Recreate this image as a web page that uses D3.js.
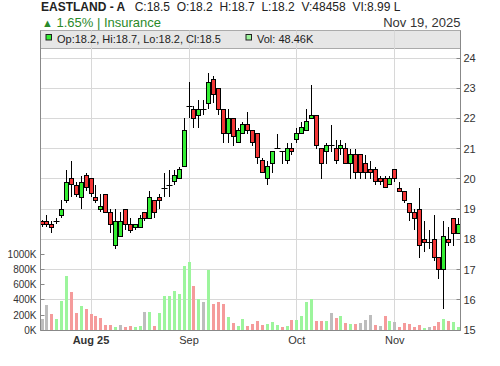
<!DOCTYPE html>
<html>
<head>
<meta charset="utf-8">
<script src="https://cdn.jsdelivr.net/npm/d3@7"></script>
<style>
  body { margin: 0; background: #fff; }
  svg { display: block; font-family: "Liberation Sans", Arial, sans-serif; }
</style>
</head>
<body>
<div id="chart"></div>
<script>
// daily OHLC, one entry per trading day (index 0 = first bar)
const opens = [18.6, 18.6, 18.5, 18.6, 18.8, 19.3, 20.0, 19.8, 19.4, 20.1,
  20.0, 19.4, 19.0, 19.5, 18.9, 17.8, 18.1, 19.0, 18.5, 18.4,
  18.4, 18.9, 18.7, 19.3, 19.4, 19.7, 19.8, 19.9, 20.0, 20.4,
  22.4, 22.3, 22.1, 22.3, 22.5, 23.3, 23.0, 22.3, 21.5, 22.0,
  21.2, 21.5, 21.8, 21.6, 21.5, 20.6, 20.0, 20.5, 21.0, 20.9,
  20.6, 21.0, 21.3, 21.5, 21.6, 22.0, 22.1, 21.0, 20.9, 21.1,
  21.0, 21.0, 21.0, 20.5, 20.8, 20.8, 20.5, 20.3, 20.3, 20.0,
  20.0, 19.8, 20.3, 19.7, 19.6, 19.2, 18.9, 19.0, 18.0, 17.9,
  18.0, 17.4, 17.0, 18.0, 18.7, 18.2];
const highs = [18.65, 18.8, 18.6, 18.7, 19.3, 20.3, 20.6, 19.9, 20.1, 20.2,
  20.0, 19.8, 19.5, 19.5, 19.0, 19.0, 18.9, 19.0, 18.7, 18.5,
  18.8, 18.9, 19.6, 19.3, 19.5, 20.2, 20.3, 20.3, 20.4, 22.0,
  23.2, 22.4, 22.6, 22.6, 23.5, 23.4, 23.0, 22.3, 22.3, 22.0,
  21.7, 21.9, 22.2, 21.6, 21.5, 20.7, 20.6, 20.9, 21.5, 20.9,
  21.2, 21.2, 21.7, 21.9, 22.3, 23.1, 22.1, 21.0, 21.2, 21.8,
  21.3, 21.3, 21.2, 21.0, 21.0, 20.8, 20.8, 20.6, 20.4, 20.1,
  20.1, 20.1, 20.3, 19.9, 19.6, 19.2, 19.0, 19.7, 18.6, 18.3,
  18.8, 17.4, 18.6, 18.4, 18.7, 18.7];
const lows = [18.4, 18.4, 18.2, 18.5, 18.7, 19.2, 19.4, 19.4, 19.0, 19.6,
  19.4, 19.2, 18.9, 18.9, 18.2, 17.7, 18.1, 18.3, 18.2, 18.3,
  18.4, 18.6, 18.7, 18.7, 19.0, 19.4, 19.4, 19.8, 20.0, 20.4,
  22.0, 21.7, 21.7, 22.1, 22.3, 22.5, 22.1, 21.2, 21.2, 21.1,
  21.2, 21.5, 21.5, 21.1, 20.5, 20.2, 19.8, 20.2, 21.0, 20.5,
  20.5, 20.8, 21.2, 21.5, 21.6, 22.0, 21.0, 20.0, 20.5, 20.9,
  20.5, 20.8, 20.5, 20.0, 20.0, 20.0, 20.0, 20.0, 19.8, 19.8,
  19.7, 19.8, 19.9, 19.6, 19.2, 18.6, 18.3, 17.4, 17.6, 17.7,
  17.3, 16.7, 15.7, 17.8, 17.8, 18.2];
const closes = [18.5, 18.5, 18.4, 18.6, 19.0, 19.9, 19.8, 19.5, 19.9, 19.7,
  19.5, 19.3, 19.1, 18.9, 18.5, 18.6, 18.6, 18.5, 18.3, 18.5,
  18.7, 18.7, 19.4, 18.9, 19.3, 19.7, 19.8, 20.1, 20.3, 21.6,
  22.4, 22.0, 22.3, 22.3, 23.2, 22.8, 22.3, 21.5, 22.0, 21.4,
  21.6, 21.8, 21.6, 21.2, 20.7, 20.2, 20.4, 20.9, 21.0, 20.9,
  21.0, 20.9, 21.5, 21.7, 21.9, 22.1, 21.1, 20.5, 21.1, 21.1,
  20.6, 21.1, 20.5, 20.8, 20.2, 20.2, 20.2, 20.2, 19.9, 19.9,
  19.7, 20.0, 20.0, 19.6, 19.3, 18.9, 18.7, 17.8, 17.9, 17.9,
  17.4, 17.0, 18.1, 17.9, 18.2, 18.5];
// volume in thousands of shares
const volumes = [149, 334, 215, 149, 387, 716, 505, 228, 321, 281,
  215, 189, 163, 70, 70, 44, 70, 44, 57, 44,
  57, 242, 242, 57, 228, 453, 453, 519, 479, 848,
  901, 585, 413, 374, 796, 347, 374, 347, 176, 97,
  57, 149, 57, 84, 123, 70, 84, 110, 70, 44,
  57, 136, 136, 189, 374, 413, 123, 123, 123, 228,
  163, 189, 97, 84, 84, 97, 136, 202, 70, 57,
  189, 123, 110, 44, 97, 84, 44, 70, 31, 44,
  57, 110, 149, 123, 110, 48];
const prevClose = 18.5;

const monthTickIdx = [10, 30, 52, 72];
const monthLabels = ['Aug 25', 'Sep', 'Oct', 'Nov'];
const priceTicks = [15, 16, 17, 18, 19, 20, 21, 22, 23, 24];
const volumeTicks = [0, 200, 400, 600, 800, 1000];

const width = 500, height = 366;
const plotLeft = 40.5, plotRight = 460.5, plotTop = 30.5, plotBottom = 330.5;

const bars = closes.map((c, i) => ({
  i, o: opens[i], h: highs[i], l: lows[i], c, v: volumes[i],
  pc: i === 0 ? prevClose : closes[i - 1]
}));

const svg = d3.select('#chart').append('svg')
  .attr('width', width).attr('height', height);

const x = d3.scaleLinear().domain([0, bars.length - 1]).range([42, 458.5]);
const y = d3.scaleLinear().domain([15, 24]).range([330.2, 58]);
const yVol = d3.scaleLinear().domain([0, 1000]).range([330.2, 254.3]);

// snap to pixel centres so the thin candles stay crisp
const px = v => Math.floor(v) + 0.5;
const cx = d => px(x(d.i));

// legend strip behind the grid
svg.append('rect')
  .attr('x', plotLeft).attr('y', plotTop).attr('width', plotRight - plotLeft).attr('height', 18)
  .attr('fill', '#e6e6e6').attr('stroke', '#aaa');

// grid
const grid = svg.append('g').attr('class', 'grid');
grid.selectAll('line.h')
  .data(priceTicks.slice(1))
  .join('line')
  .attr('class', 'h')
  .attr('x1', plotLeft).attr('x2', plotRight)
  .attr('y1', d => px(y(d))).attr('y2', d => px(y(d)))
  .attr('stroke', '#d8d8d8');
grid.selectAll('line.v')
  .data(monthTickIdx)
  .join('line')
  .attr('class', 'v')
  .attr('x1', d => px(x(d))).attr('x2', d => px(x(d)))
  .attr('y1', plotTop).attr('y2', plotBottom)
  .attr('stroke', '#d8d8d8');

// volume bars
const volColor = d => d.c > d.pc ? '#9cf59c' : d.c < d.pc ? '#f59b9b' : '#bdbdbd';
svg.append('g').selectAll('rect')
  .data(bars)
  .join('rect')
  .attr('x', d => cx(d) - 1.5)
  .attr('width', 3)
  .attr('y', d => Math.round(yVol(d.v)))
  .attr('height', d => Math.round(yVol(0)) - Math.round(yVol(d.v)))
  .attr('fill', volColor);

// candles
const candles = svg.append('g').attr('class', 'candles');
candles.selectAll('line.wick')
  .data(bars)
  .join('line')
  .attr('class', 'wick')
  .attr('x1', cx).attr('x2', cx)
  .attr('y1', d => Math.round(y(d.h))).attr('y2', d => Math.round(y(d.l)))
  .attr('stroke', '#000').attr('stroke-width', 1);
candles.selectAll('rect')
  .data(bars.filter(d => d.o !== d.c))
  .join('rect')
  .attr('x', d => cx(d) - 2)
  .attr('width', 4)
  .attr('y', d => px(y(Math.max(d.o, d.c))))
  .attr('height', d => Math.max(1, Math.round(Math.abs(y(d.o) - y(d.c)))))
  .attr('fill', d => d.c > d.o ? '#33ee33' : '#f23535')
  .attr('stroke', '#000').attr('stroke-width', 1);
candles.selectAll('line.doji')
  .data(bars.filter(d => d.o === d.c))
  .join('line')
  .attr('class', 'doji')
  .attr('x1', d => cx(d) - 3).attr('x2', d => cx(d) + 3)
  .attr('y1', d => px(y(d.o))).attr('y2', d => px(y(d.o)))
  .attr('stroke', '#000').attr('stroke-width', 1);

// axes frame
const axisColor = '#888';
svg.append('line').attr('x1', plotLeft).attr('x2', plotLeft).attr('y1', plotTop).attr('y2', plotBottom).attr('stroke', axisColor);
svg.append('line').attr('x1', plotRight).attr('x2', plotRight).attr('y1', plotTop).attr('y2', plotBottom).attr('stroke', axisColor);
svg.append('line').attr('x1', plotLeft).attr('x2', plotRight).attr('y1', plotBottom).attr('y2', plotBottom).attr('stroke', axisColor);

// right price axis
const pAxis = svg.append('g');
pAxis.selectAll('line')
  .data(priceTicks)
  .join('line')
  .attr('x1', plotRight - 4).attr('x2', plotRight)
  .attr('y1', d => px(y(d))).attr('y2', d => px(y(d)))
  .attr('stroke', axisColor);
pAxis.selectAll('text')
  .data(priceTicks)
  .join('text')
  .attr('x', 463.5).attr('y', d => y(d)).attr('dy', '0.35em')
  .attr('font-size', 11).attr('fill', '#333')
  .text(d => d);

// left volume axis
const vAxis = svg.append('g');
vAxis.selectAll('line')
  .data(volumeTicks)
  .join('line')
  .attr('x1', plotLeft).attr('x2', plotLeft + 4)
  .attr('y1', d => px(yVol(d))).attr('y2', d => px(yVol(d)))
  .attr('stroke', axisColor);
vAxis.selectAll('text')
  .data(volumeTicks)
  .join('text')
  .attr('x', 36.5).attr('y', d => yVol(d)).attr('dy', '0.35em')
  .attr('text-anchor', 'end')
  .attr('font-size', 10).attr('fill', '#333')
  .text(d => d + 'K');

// month labels
svg.append('g').selectAll('text')
  .data(monthTickIdx)
  .join('text')
  .attr('x', d => x(d)).attr('y', 344)
  .attr('text-anchor', 'middle')
  .attr('font-size', 11).attr('fill', '#333')
  .attr('font-weight', (d, i) => i === 0 ? 'bold' : 'normal')
  .text((d, i) => monthLabels[i]);

// header
svg.append('text').attr('x', 41).attr('y', 11)
  .attr('font-size', 12).attr('font-weight', 'bold').attr('fill', '#222')
  .text('EASTLAND - A');
svg.append('text').attr('x', 134.7).attr('y', 11)
  .attr('font-size', 12).attr('fill', '#222').style('white-space', 'pre')
  .text('C:18.5  O:18.2  H:18.7  L:18.2  V:48458  VI:8.99 L');
svg.append('text').attr('x', 42).attr('y', 26.5)
  .attr('font-size', 11).attr('fill', '#2a8a2a')
  .text('▲');
svg.append('text').attr('x', 56.5).attr('y', 26.5)
  .attr('font-size', 13).attr('fill', '#2a8a2a')
  .text('1.65% | Insurance');
svg.append('text').attr('x', plotRight).attr('y', 26.5)
  .attr('text-anchor', 'end')
  .attr('font-size', 13).attr('fill', '#333')
  .text('Nov 19, 2025');

// legend contents
svg.append('rect').attr('x', 46).attr('y', 34.5).attr('width', 5.5).attr('height', 5.5)
  .attr('fill', '#33ee33').attr('stroke', '#222');
svg.append('text').attr('x', 57).attr('y', 42.5)
  .attr('font-size', 11).attr('fill', '#222')
  .text('Op:18.2, Hi:18.7, Lo:18.2, Cl:18.5');
svg.append('rect').attr('x', 246).attr('y', 34.5).attr('width', 5.5).attr('height', 5.5)
  .attr('fill', '#9cf59c').attr('stroke', '#222');
svg.append('text').attr('x', 257).attr('y', 42.5)
  .attr('font-size', 11).attr('fill', '#222')
  .text('Vol: 48.46K');
</script>
</body>
</html>
